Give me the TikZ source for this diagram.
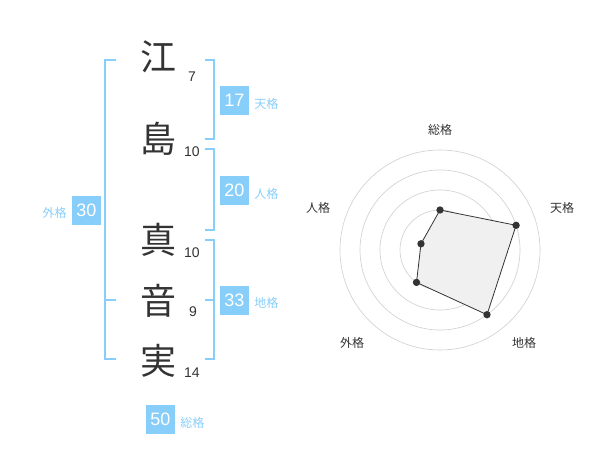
\documentclass[tikz,border=0pt]{standalone}
\usepackage{fontspec}
\setmainfont{Liberation Sans}
\newfontfamily\jp{Noto Sans CJK JP}
\definecolor{sky}{RGB}{135,206,250}
\definecolor{ink}{RGB}{51,51,51}
\definecolor{ring}{RGB}{210,210,210}
\definecolor{area}{RGB}{240,240,240}
\begin{document}
\begin{tikzpicture}[x=0.75pt,y=-0.75pt,
  kanji/.style={font=\jp\fontsize{27}{27}\selectfont,text=ink,inner sep=0pt},
  strokes/.style={font=\fontsize{10.5}{10.5}\selectfont,text=ink,inner sep=0pt},
  bracket/.style={draw=sky,line width=1.5pt},
  valbox/.style={fill=sky,text=white,minimum width=21.75pt,minimum height=21.75pt,inner sep=0pt,font=\fontsize{13.5}{13.5}\selectfont},
  kaku/.style={text=sky,font=\jp\fontsize{9}{9}\selectfont,inner sep=0pt},
  rlabel/.style={text=ink,font=\jp\fontsize{9}{9}\selectfont,inner sep=0pt},
  dot/.style={circle,fill=ink,inner sep=0pt,minimum size=5.5pt}]
\useasboundingbox (0,0) rectangle (600,470);
% characters
\node[kanji] (k1) at (158,57) {江};
\node[kanji] (k2) at (158,139) {島};
\node[kanji] (k3) at (158,240) {真};
\node[kanji] (k4) at (158,301) {音};
\node[kanji] (k5) at (158,361) {実};
\node[strokes] (s1) at (192,77) {7};
\node[strokes] (s2) at (192,152) {10};
\node[strokes] (s3) at (192,253) {10};
\node[strokes] (s4) at (193,312) {9};
\node[strokes] (s5) at (192,373) {14};
% brackets
\draw[bracket] (116,60) -- (105,60) -- (105,359) -- (116,359);
\draw[bracket] (105,300) -- (116,300);
\draw[bracket] (205,60) -- (214,60) -- (214,139) -- (205,139);
\draw[bracket] (205,149) -- (214,149) -- (214,230) -- (205,230);
\draw[bracket] (205,240) -- (214,240) -- (214,359) -- (205,359);
\draw[bracket] (205,300) -- (214,300);
% value boxes
\node[valbox] (ten) at (234.5,100.5) {17};
\node[kaku,anchor=west] (tenl) at (254,104) {天格};
\node[valbox] (jin) at (234.5,190.5) {20};
\node[kaku,anchor=west] (jinl) at (254,194) {人格};
\node[valbox] (gai) at (86.5,210.5) {30};
\node[kaku,anchor=east] (gail) at (67,213) {外格};
\node[valbox] (chi) at (234.5,300.5) {33};
\node[kaku,anchor=west] (chil) at (254,303) {地格};
\node[valbox] (sou) at (160.5,419.5) {50};
\node[kaku,anchor=west] (soul) at (180,423) {総格};
% radar
\coordinate (c) at (440,250);
\foreach \r in {20,40,60,80,100} \draw[ring,line width=0.5pt] (c) circle[radius=\r];
\fill[ring] (c) circle[radius=4];
\coordinate (p1) at (440,210);
\coordinate (p2) at (516.1,225.3);
\coordinate (p3) at (487.0,314.7);
\coordinate (p4) at (416.5,282.4);
\coordinate (p5) at (421.0,243.8);
\filldraw[fill=area,draw=ink,line width=0.6pt] (p1) -- (p2) -- (p3) -- (p4) -- (p5) -- cycle;
\foreach \p in {p1,p2,p3,p4,p5} \node[dot] at (\p) {};
\node[rlabel] (l1) at (440,130) {総格};
\node[rlabel] (l2) at (562,208) {天格};
\node[rlabel] (l3) at (524,343) {地格};
\node[rlabel] (l4) at (352,343) {外格};
\node[rlabel] (l5) at (318,208) {人格};
\end{tikzpicture}
\end{document}
